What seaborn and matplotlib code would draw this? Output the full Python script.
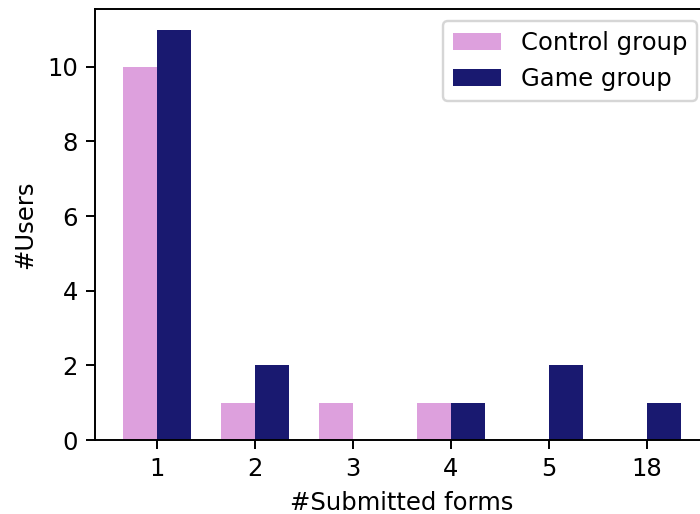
import matplotlib
matplotlib.use("Agg")
import matplotlib.pyplot as plt
import seaborn as sns
import pandas as pd

# Number of users per count of submitted forms
categories = ["1", "2", "3", "4", "5", "18"]
control_group = [10, 1, 1, 1, 0, 0]
game_group = [11, 2, 0, 1, 2, 1]
series_names = ["Control group", "Game group"]
palette = ["#DDA0DD", "#191970"]

df = pd.DataFrame({
    "forms": categories * 2,
    "users": control_group + game_group,
    "group": [series_names[0]] * len(categories) + [series_names[1]] * len(categories),
})

plt.rcdefaults()
plt.rcParams["font.family"] = ["DejaVu Sans"]

fig = plt.figure(figsize=(4.0, 514 / 175), dpi=175)
ax = fig.add_axes([95 / 700, 74 / 514, 614 / 700, 431 / 514])

sns.barplot(data=df, x="forms", y="users", hue="group", order=categories,
            hue_order=series_names, palette=palette, width=0.7, gap=0,
            saturation=1, linewidth=0, ax=ax)

ax.set_xlim(-0.635, 5.635)
ax.set_ylim(0, 11.55)
ax.set_yticks([0, 2, 4, 6, 8, 10])
ax.set_xlabel("#Submitted forms")
ax.set_ylabel("#Users")
ax.legend(loc="upper right")

fig.savefig("out.png", dpi=175)
